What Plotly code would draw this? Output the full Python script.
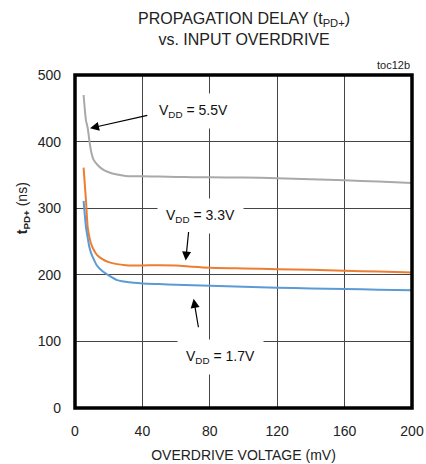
import plotly.graph_objects as go

# overdrive voltage (mV) and propagation delay (ns)
overdrive_mv = [5.1, 6.5, 7.5, 8.5, 9.5, 11, 13, 16, 20, 25, 30, 35, 40, 50, 60,
                70, 80, 100, 120, 140, 160, 180, 200]
tpd_5v5 = [470, 432, 421, 402, 386, 373, 366, 359, 354, 350.5, 348.5, 348, 348,
           347.5, 347, 346.5, 346.5, 346, 345, 343.5, 342, 340, 338]
tpd_3v3 = [361, 312, 272, 257, 247, 238, 230, 224, 219, 216, 214.5, 214, 214,
           214.5, 214, 212, 210.5, 209.5, 208.5, 207.5, 206, 205, 203.5]
tpd_1v7 = [311, 272, 256, 242, 233, 224, 214, 206, 199, 192, 189.5, 188, 187,
           186, 185, 184.3, 183.6, 182, 180.6, 179.6, 178.7, 177.7, 176.7]

x_ticks = [0, 40, 80, 120, 160, 200]
y_ticks = [0, 100, 200, 300, 400, 500]

FONT = "Liberation Sans, Arial, sans-serif"

fig = go.Figure()
for y, color in [(tpd_5v5, "#a9a9a9"), (tpd_3v3, "#ed7d31"), (tpd_1v7, "#5b9bd5")]:
    fig.add_trace(go.Scatter(
        x=overdrive_mv, y=y, mode="lines",
        line=dict(color=color, width=2, shape="spline", smoothing=0.6),
        showlegend=False,
    ))

fig.update_layout(
    width=426, height=464,
    margin=dict(l=75, r=14, t=75, b=56, autoexpand=False),
    paper_bgcolor="white", plot_bgcolor="white",
    font=dict(family=FONT, size=14, color="#222"),
    showlegend=False,
)
fig.update_xaxes(
    range=[0, 200], tickvals=x_ticks, showgrid=True, gridcolor="#444", gridwidth=1,
    zeroline=False, showline=False, ticks="", ticklabelstandoff=13, automargin=False,
    title=dict(text="OVERDRIVE VOLTAGE (mV)", standoff=12, font=dict(size=14)),
)
fig.update_yaxes(
    range=[0, 500], tickvals=y_ticks, showgrid=True, gridcolor="#444", gridwidth=1,
    zeroline=False, showline=False, ticks="", ticklabelstandoff=13, automargin=False,
)

# heavy frame
fig.add_shape(type="rect", xref="paper", yref="paper", x0=0, y0=0, x1=1, y1=1,
              line=dict(color="black", width=3.5))

# title and tags
fig.add_annotation(text="PROPAGATION DELAY (t<sub>PD+</sub>)<br>vs. INPUT OVERDRIVE",
                   xref="paper", yref="paper", x=0.5, y=1, yshift=46, yanchor="middle",
                   showarrow=False, font=dict(size=16, color="#222"))
fig.add_annotation(text="toc12b", xref="paper", yref="paper", x=1, y=1, xanchor="right",
                   yanchor="bottom", yshift=2, showarrow=False, font=dict(size=11))
fig.add_annotation(text="<b>t<sub>PD+</sub></b> (ns)", xref="paper", yref="paper",
                   x=0, xshift=-52, xanchor="center", y=0.6, textangle=-90,
                   showarrow=False, font=dict(size=14))

# curve labels
labels = [("V<sub>DD</sub> = 5.5V", 70.5, 446), ("V<sub>DD</sub> = 3.3V", 74.5, 289),
          ("V<sub>DD</sub> = 1.7V", 86.5, 77)]
for text, x, y in labels:
    fig.add_annotation(text=text, x=x, y=y, showarrow=False, bgcolor="white",
                       borderpad=8, font=dict(size=14, color="#111"))

arrows = [(43.8, 440, 8.9, 420), (67.5, 266.6, 65.7, 221.4), (73.4, 119, 70.4, 164)]
for ax, ay, x, y in arrows:
    fig.add_annotation(text="", x=x, y=y, ax=ax, ay=ay, axref="x", ayref="y",
                       showarrow=True, arrowhead=2, arrowsize=1.5, arrowwidth=1.2,
                       arrowcolor="black")

fig.write_html("out.html", config={"displayModeBar": False},
               post_script="document.body.style.margin='0';")
